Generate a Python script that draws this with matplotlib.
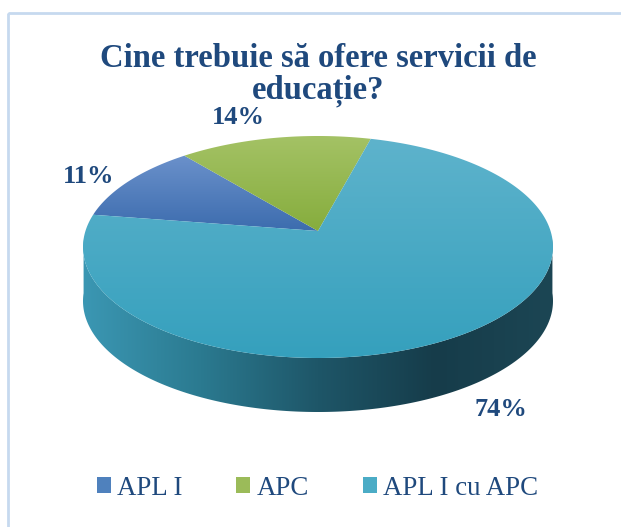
import numpy as np
import matplotlib.pyplot as plt
from matplotlib.patches import Polygon, Patch, Rectangle
from matplotlib.colors import LinearSegmentedColormap

plt.rcParams['font.family'] = ['Liberation Serif', 'DejaVu Serif']

# date
categories = ["APL I", "APC", "APL I cu APC"]
values = [11, 14, 74]
pct_labels = ["11%", "14%", "74%"]
title = "Cine trebuie să ofere servicii de\neducație?"

# culori
legend_colors = ["#4f81bd", "#9bbb59", "#4bacc6"]
top_grad = [["#3c6cae", "#6b91cb"], ["#86ad3d", "#a4c265"], ["#35a0bd", "#5eb3cc"]]
side_grad = ["#3b97b3", "#2b7a90", "#1e5668", "#163c4a", "#1c4654"]
txt_col = "#1f497d"

W, H = 621, 527
fig = plt.figure(figsize=(W / 100, H / 100), dpi=100)
ax = fig.add_axes([0, 0, 1, 1])

# geometria pie-ului 3D (pixeli, y in jos)
cx, cy, a, b, depth = 318, 247, 235, 111, 54
apex = (318, 231)
start = 167
persp = 0.07  # comprimare a spatelui (perspectiva)


def to_param(theta):
    # unghi real -> unghi pe elipsa vazuta in perspectiva
    t = np.radians(theta)
    den = 1 + persp * np.sin(t)
    s = (np.sin(t) + persp) / den
    c = np.cos(t) * np.sqrt(1 - persp ** 2) / den
    return np.degrees(np.unwrap(np.arctan2(s, c)))


def arc(t1, t2, n=300, yoff=0):
    t = np.radians(to_param(np.linspace(t1, t2, n)))
    return np.column_stack([cx + a * np.cos(t), cy + yoff - b * np.sin(t)])


def grad_fill(pts, colors, horizontal=False):
    poly = Polygon(pts, closed=True, facecolor='none', edgecolor='none')
    ax.add_patch(poly)
    x0, x1 = pts[:, 0].min(), pts[:, 0].max()
    y0, y1 = pts[:, 1].min(), pts[:, 1].max()
    cmap = LinearSegmentedColormap.from_list('g', colors)
    g = np.linspace(0, 1, 256)
    if horizontal:
        Z = np.tile(g, (2, 1))
    else:
        Z = np.tile(g[:, None], (1, 2))
    im = ax.imshow(Z, cmap=cmap, extent=(x0, x1, y1, y0), origin='lower',
                   interpolation='bilinear', aspect='auto')
    im.set_clip_path(poly)


# marginea
ax.add_patch(Rectangle((8, 13), 640, 560, fill=False, edgecolor="#c6d9ef", lw=2))

# partea laterala (fata)
side = np.vstack([arc(180, 360), arc(360, 180, yoff=depth)])
grad_fill(side, side_grad, horizontal=True)

# felii
fracs = np.array(values) / sum(values)
bounds = start - 360 * np.concatenate([[0], np.cumsum(fracs)])
for i in range(len(values)):
    pts = np.vstack([[apex], arc(bounds[i], bounds[i + 1])])
    grad_fill(pts, top_grad[i])

# etichete procente
label_off = [(-40, -5), (-36, -20), (53, 16)]
for i in range(len(values)):
    tm = (bounds[i] + bounds[i + 1]) / 2
    yoff = depth if np.sin(np.radians(tm)) < 0 else 0
    px, py = arc(tm, tm, n=1, yoff=yoff)[0]
    dx, dy = label_off[i]
    ax.annotate(pct_labels[i], (px, py), xytext=(dx, -dy), textcoords='offset pixels',
                ha='center', va='center', fontsize=19, fontweight='bold', color=txt_col)

ax.text(318, 75, title, ha='center', va='center', fontsize=23.5, fontweight='bold',
        color=txt_col, linespacing=1.0)

handles = [Patch(facecolor=c, edgecolor='none') for c in legend_colors]
leg = ax.legend(handles, categories, loc='center', bbox_to_anchor=(0.511, 0.074),
                ncol=3, frameon=False, fontsize=19.4, handlelength=0.52, handleheight=0.52,
                handletextpad=0.22, columnspacing=2.0)
for t in leg.get_texts():
    t.set_color(txt_col)

ax.set_xlim(0, W)
ax.set_ylim(H, 0)
ax.axis('off')
fig.savefig('out.png', dpi=100)
